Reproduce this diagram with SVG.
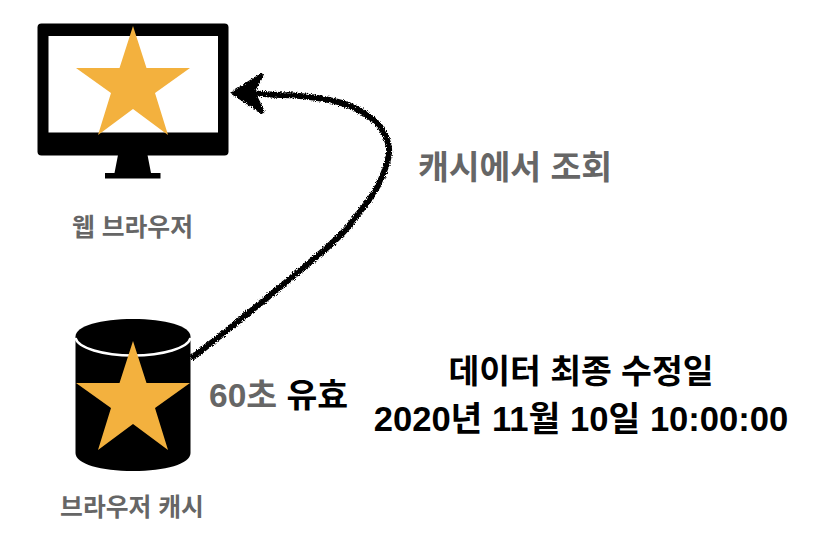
<svg xmlns="http://www.w3.org/2000/svg" width="840" height="542" viewBox="0 0 840 542">
<style>
text{font-family:"Liberation Sans","Noto Sans CJK KR",sans-serif;font-weight:700}
.g{fill:#666}.k{fill:#000}.star{fill:#f3b13e}
.lg{font-size:33.500px}.sm{font-size:24.800px}.md{font-size:33.500px}.dt{font-size:34.600px}
.rough{fill:none;stroke:#000;stroke-linecap:round;stroke-linejoin:round}
</style>
<defs>
<filter id="chalk" x="-10%" y="-10%" width="120%" height="120%">
<feTurbulence type="fractalNoise" baseFrequency="0.9" numOctaves="2" seed="4"/>
<feDisplacementMap in="SourceGraphic" scale="5" xChannelSelector="R" yChannelSelector="G"/>
</filter>
<polygon id="s" class="star" points="57,0 70.500,42 114,42 79,67 92,109 57,83 22,109 35,67 0,42 43.500,42"/>
</defs>
<rect width="840" height="542" fill="#fff"/>
<g id="browser">
<rect x="37.500" y="23.500" width="191" height="132" rx="4" fill="#000"/>
<rect x="48.500" y="36" width="169.500" height="96.500" fill="#fff"/>
<path d="M118 155H147.500L151 173H160.500V178.500H105V173H114.500Z" fill="#000"/>
<use href="#s" x="76" y="26"/>
<text class="g sm" x="132.500" y="236" text-anchor="middle">웹 브라우저</text>
</g>
<g id="cache">
<path d="M75.500 336.500C75.500 326 101 319 133 319S190.500 326 190.500 336.500V453C190.500 464 165 471 133 471S75.500 464 75.500 453Z" fill="#000"/>
<path d="M75.500 338C78 348 103 355.500 133 355.500S188 348 190.500 338" fill="none" stroke="#fff" stroke-width="2.500"/>
<use href="#s" x="76" y="341"/>
<text class="g sm" x="132" y="516" text-anchor="middle">브라우저 캐시</text>
</g>
<g id="connectors">
<g filter="url(#chalk)">
<path class="rough" stroke-width="6" d="M193 357C225 333 262 302 297 273C320 254 336 241 348 227C363 207 375 195 382 177C388 162 391 152 388 143C384 128 375 120 367 115C355 107 345 103 330 100C312 97 296 95 280 95C264 94 252 93 240 93"/>
<path d="M234 93L261 76L252 91L262 111Z" fill="#000" stroke="#000" stroke-width="5" stroke-linejoin="round"/>
</g>
</g>
<g id="labels">
<text class="g lg" x="515" y="179" text-anchor="middle">캐시에서 조회</text>
<text class="md" x="209" y="407"><tspan class="g">60초</tspan><tspan class="k"> 유효</tspan></text>
<text class="k md" x="581" y="383" text-anchor="middle">데이터 최종 수정일</text>
<text class="k dt" x="581" y="431" text-anchor="middle">2020년 11월 10일 10:00:00</text>
</g>
</svg>
